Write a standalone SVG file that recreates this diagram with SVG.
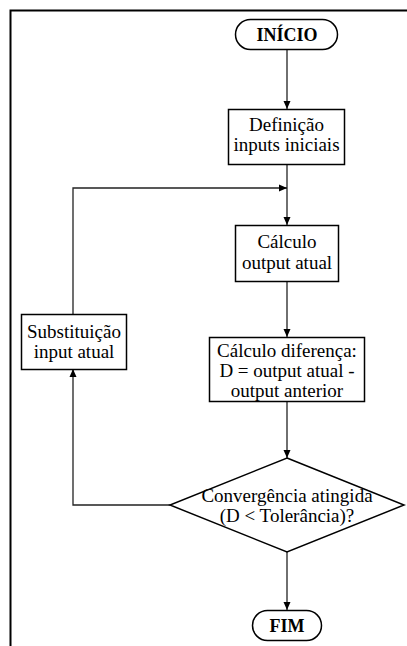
<svg xmlns="http://www.w3.org/2000/svg" width="407" height="646" viewBox="0 0 407 646">
  <style>
    .box { fill: #ffffff; stroke: #000000; stroke-width: 1.5; }
    .wire { fill: none; stroke: #222222; stroke-width: 1.3; }
    text { font-family: 'Liberation Serif', 'Times New Roman', Times, 'DejaVu Serif', serif; fill: #000000; text-anchor: middle; }
    .lbl { font-size: 19px; }
    .term { font-size: 18px; font-weight: bold; }
  </style>
  <defs>
    <marker id="arrow" viewBox="0 0 8 8" refX="8" refY="4" markerWidth="8" markerHeight="8" markerUnits="userSpaceOnUse" orient="auto">
      <path d="M0,0.5 L8,4 L0,7.5 Z" fill="#000000"/>
    </marker>
  </defs>
  <rect width="407" height="646" fill="#ffffff"/>
  <!-- page frame -->
  <path d="M10.5,646 V10.5 H407" fill="none" stroke="#000000" stroke-width="2"/>

  <g id="connectors">
    <line class="wire" x1="287" y1="49" x2="287" y2="109" marker-end="url(#arrow)"/>
    <line class="wire" x1="287" y1="165" x2="287" y2="225" marker-end="url(#arrow)"/>
    <polyline class="wire" points="73,314 73,188 287,188" marker-end="url(#arrow)"/>
    <line class="wire" x1="287" y1="282" x2="287" y2="337" marker-end="url(#arrow)"/>
    <line class="wire" x1="287" y1="402" x2="287" y2="458" marker-end="url(#arrow)"/>
    <polyline class="wire" points="170,505 73,505 73,369" marker-end="url(#arrow)"/>
    <line class="wire" x1="287" y1="552" x2="287" y2="610" marker-end="url(#arrow)"/>
  </g>

  <g id="inicio">
    <rect class="box" x="235.5" y="19.5" width="102" height="30" rx="15" ry="15"/>
    <text class="term" x="287" y="41">INÍCIO</text>
  </g>

  <g id="definicao">
    <rect class="box" x="228.5" y="109.5" width="116" height="55"/>
    <text class="lbl" x="286.5" y="131">Definição</text>
    <text class="lbl" x="286.5" y="151">inputs iniciais</text>
  </g>

  <g id="calculo-output">
    <rect class="box" x="235.5" y="225.5" width="103" height="56"/>
    <text class="lbl" x="287" y="248">Cálculo</text>
    <text class="lbl" x="287" y="269">output atual</text>
  </g>

  <g id="calculo-diferenca">
    <rect class="box" x="209.5" y="337.5" width="155" height="64"/>
    <text class="lbl" x="287" y="357">Cálculo diferença:</text>
    <text class="lbl" x="287" y="377">D = output atual -</text>
    <text class="lbl" x="287" y="397">output anterior</text>
  </g>

  <g id="substituicao">
    <rect class="box" x="21.5" y="314.5" width="105" height="55"/>
    <text class="lbl" x="74" y="338">Substituição</text>
    <text class="lbl" x="74" y="358">input atual</text>
  </g>

  <g id="convergencia">
    <polygon class="box" points="287,458 404,505 287,552 170,505"/>
    <text class="lbl" x="287" y="502">Convergência atingida</text>
    <text class="lbl" x="287" y="522">(D &lt; Tolerância)?</text>
  </g>

  <g id="fim">
    <rect class="box" x="252.5" y="610.5" width="69" height="30" rx="15" ry="15"/>
    <text class="term" x="287" y="632">FIM</text>
  </g>
</svg>
